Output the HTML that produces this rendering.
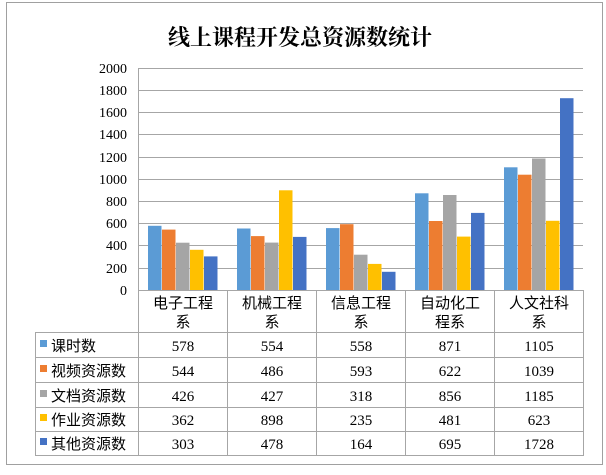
<!DOCTYPE html>
<html><head><meta charset="utf-8"><style>
body{margin:0;background:#fff}
svg text{font-family:"Liberation Serif","Noto Sans CJK SC",serif}
.c{font-family:"Noto Sans CJK SC","WenQuanYi Zen Hei",sans-serif}
</style></head><body>
<svg width="606" height="470" xmlns="http://www.w3.org/2000/svg">
<rect x="6.5" y="2.5" width="596" height="462" fill="#fff" stroke="#a0a0a0"/>
<text x="300" y="45" text-anchor="middle" font-size="22" font-weight="bold" style="font-family:'Noto Serif CJK SC','Noto Sans CJK SC',serif">线上课程开发总资源数统计</text>
<g stroke="#a6a6a6" stroke-width="1">
<line x1="138" y1="68.5" x2="583" y2="68.5"/><line x1="138" y1="90.5" x2="583" y2="90.5"/><line x1="138" y1="112.5" x2="583" y2="112.5"/><line x1="138" y1="134.5" x2="583" y2="134.5"/><line x1="138" y1="157.5" x2="583" y2="157.5"/><line x1="138" y1="179.5" x2="583" y2="179.5"/><line x1="138" y1="201.5" x2="583" y2="201.5"/><line x1="138" y1="223.5" x2="583" y2="223.5"/><line x1="138" y1="245.5" x2="583" y2="245.5"/><line x1="138" y1="268.5" x2="583" y2="268.5"/>
</g>
<g font-size="14" text-anchor="end">
<text x="127" y="73">2000</text><text x="127" y="95">1800</text><text x="127" y="117">1600</text><text x="127" y="139">1400</text><text x="127" y="162">1200</text><text x="127" y="184">1000</text><text x="127" y="206">800</text><text x="127" y="228">600</text><text x="127" y="250">400</text><text x="127" y="273">200</text><text x="127" y="295">0</text>
</g>
<g fill="#5b9bd5">
<rect x="148" y="225.8" width="13.5" height="64.2"/><rect x="237" y="228.5" width="13.5" height="61.5"/><rect x="326" y="228.1" width="13.5" height="61.9"/><rect x="415" y="193.3" width="13.5" height="96.7"/><rect x="504" y="167.3" width="13.5" height="122.7"/>
</g>
<g fill="#ed7d31">
<rect x="162" y="229.6" width="13.5" height="60.4"/><rect x="251" y="236.1" width="13.5" height="53.9"/><rect x="340" y="224.2" width="13.5" height="65.8"/><rect x="429" y="221" width="13.5" height="69"/><rect x="518" y="174.7" width="13.5" height="115.3"/>
</g>
<g fill="#a5a5a5">
<rect x="176" y="242.7" width="13.5" height="47.3"/><rect x="265" y="242.6" width="13.5" height="47.4"/><rect x="354" y="254.7" width="13.5" height="35.3"/><rect x="443" y="195" width="13.5" height="95"/><rect x="532" y="158.5" width="13.5" height="131.5"/>
</g>
<g fill="#ffc000">
<rect x="190" y="249.8" width="13.5" height="40.2"/><rect x="279" y="190.3" width="13.5" height="99.7"/><rect x="368" y="263.9" width="13.5" height="26.1"/><rect x="457" y="236.6" width="13.5" height="53.4"/><rect x="546" y="220.8" width="13.5" height="69.2"/>
</g>
<g fill="#4472c4">
<rect x="204" y="256.4" width="13.5" height="33.6"/><rect x="293" y="236.9" width="13.5" height="53.1"/><rect x="382" y="271.8" width="13.5" height="18.2"/><rect x="471" y="212.9" width="13.5" height="77.1"/><rect x="560" y="98.2" width="13.5" height="191.8"/>
</g>
<g stroke="#a6a6a6" fill="none">
<line x1="138.5" y1="68" x2="138.5" y2="456"/>
<line x1="138" y1="290.5" x2="583" y2="290.5"/>
<line x1="227.5" y1="290" x2="227.5" y2="456"/><line x1="316.5" y1="290" x2="316.5" y2="456"/><line x1="405.5" y1="290" x2="405.5" y2="456"/><line x1="494.5" y1="290" x2="494.5" y2="456"/><line x1="583.5" y1="290" x2="583.5" y2="456"/>
<line x1="35" y1="332.5" x2="583" y2="332.5"/><line x1="35" y1="357.5" x2="583" y2="357.5"/><line x1="35" y1="382.5" x2="583" y2="382.5"/><line x1="35" y1="407.5" x2="583" y2="407.5"/><line x1="35" y1="431.5" x2="583" y2="431.5"/><line x1="35" y1="455.5" x2="583" y2="455.5"/>
<line x1="35.5" y1="332" x2="35.5" y2="456"/>
</g>
<g font-size="15" text-anchor="middle" class="c">
<text x="183" y="308">电子工程</text><text x="183" y="327">系</text>
<text x="272" y="308">机械工程</text><text x="272" y="327">系</text>
<text x="361" y="308">信息工程</text><text x="361" y="327">系</text>
<text x="450" y="308">自动化工</text><text x="450" y="327">程系</text>
<text x="539" y="308">人文社科</text><text x="539" y="327">系</text>
</g>
<g font-size="15" class="c">
<rect x="40" y="340" width="7" height="7" fill="#5b9bd5"/><text x="51" y="351">课时数</text>
<rect x="40" y="365" width="7" height="7" fill="#ed7d31"/><text x="51" y="376">视频资源数</text>
<rect x="40" y="390" width="7" height="7" fill="#a5a5a5"/><text x="51" y="401">文档资源数</text>
<rect x="40" y="414" width="7" height="7" fill="#ffc000"/><text x="51" y="425">作业资源数</text>
<rect x="40" y="438" width="7" height="7" fill="#4472c4"/><text x="51" y="449">其他资源数</text>
</g>
<g font-size="15" text-anchor="middle">
<text x="183" y="351">578</text><text x="272" y="351">554</text><text x="361" y="351">558</text><text x="450" y="351">871</text><text x="539" y="351">1105</text>
<text x="183" y="376">544</text><text x="272" y="376">486</text><text x="361" y="376">593</text><text x="450" y="376">622</text><text x="539" y="376">1039</text>
<text x="183" y="401">426</text><text x="272" y="401">427</text><text x="361" y="401">318</text><text x="450" y="401">856</text><text x="539" y="401">1185</text>
<text x="183" y="425">362</text><text x="272" y="425">898</text><text x="361" y="425">235</text><text x="450" y="425">481</text><text x="539" y="425">623</text>
<text x="183" y="449">303</text><text x="272" y="449">478</text><text x="361" y="449">164</text><text x="450" y="449">695</text><text x="539" y="449">1728</text>
</g>
</svg>
</body></html>
